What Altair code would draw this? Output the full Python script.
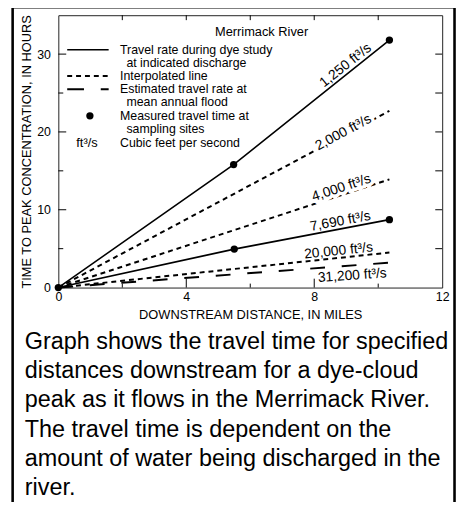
import altair as alt
import pandas as pd

# ---------------- data ----------------
series = ["1,250", "2,000", "4,000", "7,690", "20,000", "31,200"]
kind = ["measured", "interpolated", "interpolated", "measured", "interpolated", "estimated"]
line_x = [[0, 5.48, 10.35], [0, 10.35], [0, 10.35], [0, 5.5, 10.35], [0, 10.35], [0, 10.35]]
line_y = [[0, 15.8, 31.8], [0, 22.7], [0, 13.9], [0, 4.94, 8.73], [0, 4.5], [0, 3.2]]
label_x = [8.98, 8.91, 8.85, 8.82, 8.76, 9.19]
label_y = [28.53, 19.91, 12.81, 8.50, 4.69, 1.52]
label_angle = [321.4, 331.8, 341.8, 349.3, 354, 356]
label_halo = [False, True, True, False, False, False]
sample_x = [0, 5.48, 10.35, 5.5, 10.35]
sample_y = [0, 15.8, 31.8, 4.94, 8.73]

x_label_values = [0, 4, 8, 12]
y_label_values = [0, 10, 20, 30]
x_ticks_major = [4, 8]
x_ticks_minor = [2, 6, 10]
x_ticks_top = [2, 4, 6, 8, 10]
y_ticks_major = [10, 20, 30]
y_ticks_minor = [5, 15, 25]
y_ticks_right = [5, 10, 15, 20, 25, 30]

legend_title = "Merrimack River"
legend_texts = ["Travel rate during dye study", "at indicated discharge", "Interpolated line",
                "Estimated travel rate at", "mean annual flood", "Measured travel time at",
                "sampling sites", "Cubic feet per second"]
legend_indent = [0, 1, 0, 0, 1, 0, 1, 0]
unit_symbol = "ft\u00b3/s"

caption_lines = ["Graph shows the travel time for specified",
                 "distances downstream for a dye-cloud",
                 "peak as it flows in the Merrimack River.",
                 "The travel time is dependent on the",
                 "amount of water being discharged in the",
                 "river."]

# ---------------- layout ----------------
W, H = 389, 276
FONT = "Liberation Sans"

rows = []
for s, k, xs_, ys_ in zip(series, kind, line_x, line_y):
    for i, (a, b) in enumerate(zip(xs_, ys_)):
        rows.append({"series": s, "kind": k, "x": a, "y": b, "order": i})
lines_df = pd.DataFrame(rows)
labels_df = pd.DataFrame({"series": series, "x": label_x, "y": label_y,
                          "angle": label_angle, "halo": label_halo,
                          "text": [s + " " + unit_symbol for s in series]})
samples_df = pd.DataFrame({"x": sample_x, "y": sample_y})

xscale = alt.Scale(domain=[0, 12], nice=False, zero=False)
yscale = alt.Scale(domain=[0, 35], nice=False, zero=False)
xaxis = alt.Axis(values=x_label_values, title="DOWNSTREAM DISTANCE, IN MILES", ticks=False,
                 tickSize=0, domain=False, grid=False, labelPadding=3, titlePadding=6,
                 labelFont=FONT, labelFontSize=12.5, labelColor="black", titleFont=FONT,
                 titleFontSize=13, titleFontWeight="normal", titleColor="black",
                 labelFlush=False)
yaxis = alt.Axis(values=y_label_values, title="TIME TO PEAK CONCENTRATION, IN HOURS", ticks=False,
                 tickSize=0, domain=False, grid=False, labelPadding=8, titlePadding=3,
                 labelFont=FONT, labelFontSize=12.5, labelColor="black", titleFont=FONT,
                 titleFontSize=13, titleFontWeight="normal", titleColor="black",
                 labelFlush=False)


def X(f="x"):
    return alt.X(f + ":Q", scale=xscale, axis=xaxis)


def Y(f="y"):
    return alt.Y(f + ":Q", scale=yscale, axis=yaxis)


base = alt.Chart(lines_df)
solid = base.transform_filter(alt.datum.kind == "measured").mark_line(
    color="black", strokeWidth=1.6).encode(x=X(), y=Y(), detail="series:N", order="order:Q")
interp = base.transform_filter(alt.datum.kind == "interpolated").mark_line(
    color="black", strokeWidth=2, strokeDash=[5, 4]).encode(x=X(), y=Y(), detail="series:N", order="order:Q")
est = base.transform_filter(alt.datum.kind == "estimated").mark_line(
    color="black", strokeWidth=2, strokeDash=[15, 17]).encode(x=X(), y=Y(), detail="series:N", order="order:Q")

pts = alt.Chart(samples_df).mark_point(filled=True, color="black", size=55, opacity=1).encode(x=X(), y=Y())

lab = alt.Chart(labels_df)
halo = lab.transform_filter(alt.datum.halo).mark_text(
    font=FONT, fontSize=14, stroke="white", strokeWidth=7, fill="white", align="center",
    baseline="middle").encode(x=X(), y=Y(), text="text:N", angle=alt.Angle("angle:Q", scale=None))
labtxt = lab.mark_text(font=FONT, fontSize=14, color="black", align="center", baseline="middle").encode(
    x=X(), y=Y(), text="text:N", angle=alt.Angle("angle:Q", scale=None))

# ticks drawn inward
def xticks(vals, y0, y1):
    return alt.Chart(pd.DataFrame({"x": vals})).mark_rule(color="black", strokeWidth=1).encode(
        x=X(), y=alt.value(y0), y2=alt.value(y1))


def yticks(vals, x0, x1):
    return alt.Chart(pd.DataFrame({"y": vals})).mark_rule(color="black", strokeWidth=1).encode(
        y=Y(), x=alt.value(x0), x2=alt.value(x1))


ticks = [xticks(x_ticks_major, H, H - 9), xticks(x_ticks_minor, H, H - 4), xticks(x_ticks_top, 0, 5),
         yticks(y_ticks_major, 0, 8), yticks(y_ticks_minor, 0, 5), yticks(y_ticks_right, W, W - 7)]

one = pd.DataFrame({"k": [0]})
LF = 12.5
legend_layers = []
legend_layers.append(alt.Chart(one).mark_text(text=legend_title, font=FONT, fontSize=13, color="black",
                                              align="center", baseline="middle").encode(
    x=alt.value(206), y=alt.value(17)))
row_y = [35, 48.5, 61.5, 75, 88.5, 102, 115.5, 129.5]
for t, ind, ry in zip(legend_texts, legend_indent, row_y):
    legend_layers.append(alt.Chart(one).mark_text(text=t, font=FONT, fontSize=LF, color="black",
                                                  align="left", baseline="middle").encode(
        x=alt.value(62.5 + 6.5 * ind), y=alt.value(ry)))
legend_layers.append(alt.Chart(one).mark_rule(color="black", strokeWidth=1.6).encode(
    x=alt.value(9), x2=alt.value(51), y=alt.value(row_y[0])))
legend_layers.append(alt.Chart(one).mark_rule(color="black", strokeWidth=2, strokeDash=[5, 4]).encode(
    x=alt.value(9), x2=alt.value(51), y=alt.value(row_y[2])))
legend_layers.append(alt.Chart(one).mark_rule(color="black", strokeWidth=2, strokeDash=[17, 17]).encode(
    x=alt.value(9), x2=alt.value(51), y=alt.value(row_y[3])))
legend_layers.append(alt.Chart(one).mark_point(filled=True, color="black", size=55, opacity=1).encode(
    x=alt.value(32), y=alt.value(row_y[5])))
legend_layers.append(alt.Chart(one).mark_text(text=unit_symbol, font=FONT, fontSize=13, color="black",
                                              align="center", baseline="middle").encode(
    x=alt.value(29), y=alt.value(row_y[7])))

frame = alt.Chart(one).mark_rect(filled=False, stroke="black", strokeWidth=2.6).encode(
    x=alt.value(-46.3), x2=alt.value(401.5), y=alt.value(-8), y2=alt.value(560))

caption = alt.Chart(one).mark_text(text=caption_lines, font=FONT, fontSize=23.7, lineHeight=29.5,
                                   color="black", align="left", baseline="alphabetic").encode(
    x=alt.value(-34), y=alt.value(338.5))

chart = alt.layer(solid, interp, est, *ticks, halo, labtxt, pts, *legend_layers, frame, caption).properties(
    width=W, height=H, padding={"left": 51, "top": 4, "right": 14, "bottom": 214},
    autosize=alt.AutoSizeParams(type="none"), background="white"
).configure_view(stroke="#222", strokeWidth=1)

chart.save("out.html", embed_options={"renderer": "svg", "actions": False})
